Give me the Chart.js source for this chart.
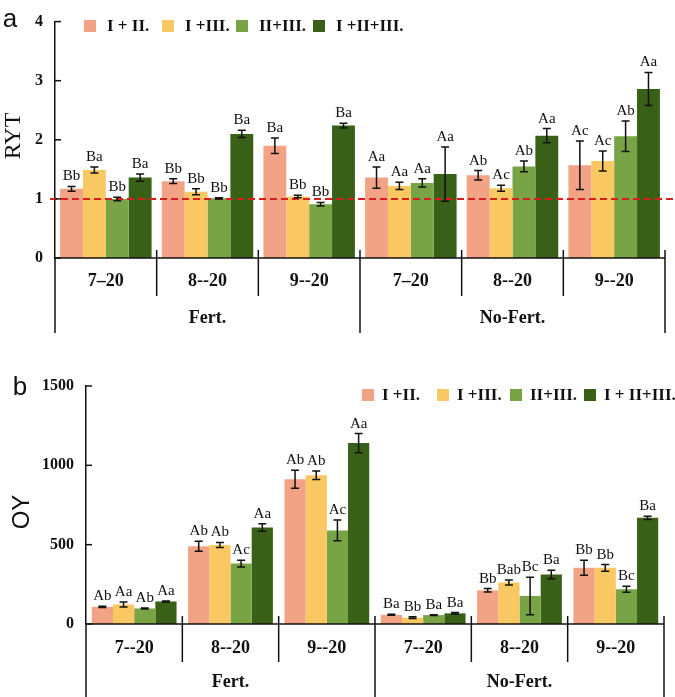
<!DOCTYPE html>
<html>
<head>
<meta charset="utf-8">
<script src="https://cdn.jsdelivr.net/npm/chart.js@4.4.1/dist/chart.umd.min.js"></script>
<style>
  html, body { margin: 0; padding: 0; background: #fff; }
  #wrap { position: relative; width: 675px; height: 697px; overflow: hidden; }
  canvas { position: absolute; left: 0; }
  #rytChart { top: 0; }
  #oyChart { top: 360px; }
</style>
</head>
<body>
<div id="wrap">
  <canvas id="rytChart" width="675" height="360"></canvas>
  <canvas id="oyChart" width="675" height="337"></canvas>
</div>
<script>
// Categories (sowing date) and treatment groups
const rytCategories = ["7–20", "8--20", "9--20", "7–20", "8--20", "9--20"];
const oyCategories = ["7--20", "8--20", "9--20", "7--20", "8--20", "9--20"];
const groupNames = ["Fert.", "No-Fert."];

const rytSeriesNames = ["I + II.", "I +III.", "II+III.", "I +II+III."];
const oySeriesNames = ["I +II.", "I +III.", "II+III.", "I + II+III."];
const seriesColors = ["#F2A385", "#F9C862", "#78A445", "#386016"];

// Panel a: RYT
const rytS1 = [1.17, 1.30, 1.90, 1.36, 1.40, 1.57];
const rytS2 = [1.49, 1.12, 1.04, 1.22, 1.18, 1.64];
const rytS3 = [1.00, 1.01, 0.91, 1.27, 1.55, 2.06];
const rytS4 = [1.36, 2.10, 2.24, 1.42, 2.07, 2.86];
const rytErr1 = [0.04, 0.04, 0.13, 0.18, 0.08, 0.41];
const rytErr2 = [0.05, 0.05, 0.02, 0.06, 0.05, 0.17];
const rytErr3 = [0.03, 0.01, 0.03, 0.07, 0.09, 0.26];
const rytErr4 = [0.06, 0.06, 0.04, 0.46, 0.12, 0.28];
const rytLetters1 = ["Bb", "Bb", "Ba", "Aa", "Ab", "Ac"];
const rytLetters2 = ["Ba", "Bb", "Bb", "Aa", "Ac", "Ac"];
const rytLetters3 = ["Bb", "Bb", "Bb", "Aa", "Ab", "Ab"];
const rytLetters4 = ["Ba", "Ba", "Ba", "Aa", "Aa", "Aa"];
const rytTicks = [0, 1, 2, 3, 4];

// Panel b: OY
const oyS1 = [108, 490, 912, 58, 212, 354];
const oyS2 = [123, 498, 937, 40, 262, 354];
const oyS3 = [98, 381, 590, 56, 177, 219];
const oyS4 = [142, 608, 1140, 67, 312, 669];
const oyErr1 = [4, 31, 57, 3, 11, 47];
const oyErr2 = [16, 16, 27, 5, 16, 21];
const oyErr3 = [3, 21, 66, 2, 118, 19];
const oyErr4 = [3, 24, 60, 5, 27, 10];
const oyLetters1 = ["Ab", "Ab", "Ab", "Ba", "Bb", "Bb"];
const oyLetters2 = ["Aa", "Ab", "Ab", "Bb", "Bab", "Bb"];
const oyLetters3 = ["Ab", "Ac", "Ac", "Ba", "Bc", "Bc"];
const oyLetters4 = ["Aa", "Aa", "Aa", "Ba", "Ba", "Ba"];
const oyTicks = [0, 500, 1000, 1500];

const SERIF = '"Liberation Serif", "Times New Roman", serif';
const SANS = '"Liberation Sans", Arial, sans-serif';

// Error bars and significance letters above each bar
const errorBarPlugin = {
  id: "errorBars",
  afterDatasetsDraw(chart) {
    const ctx = chart.ctx;
    const y = chart.scales.y;
    ctx.save();
    chart.data.datasets.forEach((ds, di) => {
      const meta = chart.getDatasetMeta(di);
      meta.data.forEach((bar, i) => {
        const v = ds.data[i];
        const e = ds.errors[i];
        const top = y.getPixelForValue(v + e);
        const bot = y.getPixelForValue(v - e);
        ctx.strokeStyle = "#111";
        ctx.lineWidth = 1.5;
        ctx.beginPath();
        ctx.moveTo(bar.x, top);
        ctx.lineTo(bar.x, bot);
        ctx.moveTo(bar.x - 4, top);
        ctx.lineTo(bar.x + 4, top);
        ctx.moveTo(bar.x - 4, bot);
        ctx.lineTo(bar.x + 4, bot);
        ctx.stroke();
        ctx.fillStyle = "#111";
        ctx.font = "15px " + SERIF;
        ctx.textAlign = "center";
        ctx.textBaseline = "alphabetic";
        ctx.fillText(ds.letters[i], bar.x, top - 6);
      });
    });
    ctx.restore();
  },
};

// Two-level category axis drawn under the plot
const groupAxisPlugin = {
  id: "groupAxis",
  afterDraw(chart, args, opts) {
    const ctx = chart.ctx;
    const x = chart.scales.x;
    const y = chart.scales.y;
    const area = chart.chartArea;
    const bottom = area.bottom;
    const n = chart.data.labels.length;
    ctx.save();
    ctx.strokeStyle = "#111";
    ctx.lineWidth = 1.5;
    ctx.beginPath();
    ctx.moveTo(area.left, bottom);
    ctx.lineTo(area.right, bottom);
    ctx.stroke();

    // inner ticks on the y axis
    y.ticks.forEach((t) => {
      const py = y.getPixelForValue(t.value);
      ctx.beginPath();
      ctx.moveTo(area.left, py);
      ctx.lineTo(area.left + 6, py);
      ctx.stroke();
    });

    const bounds = [area.left];
    for (let i = 1; i < n; i++) {
      bounds.push((x.getPixelForValue(i - 1) + x.getPixelForValue(i)) / 2);
    }
    bounds.push(area.right);
    bounds.forEach((bx, i) => {
      const big = i === 0 || i === n || i === n / 2;
      ctx.beginPath();
      ctx.moveTo(bx, i === 0 ? bottom : bottom - 8);
      ctx.lineTo(bx, bottom + (big ? opts.bigDrop : opts.smallDrop));
      ctx.stroke();
    });

    ctx.fillStyle = "#111";
    ctx.font = "bold 18px " + SERIF;
    ctx.textAlign = "center";
    ctx.textBaseline = "middle";
    chart.data.labels.forEach((lab, i) => {
      ctx.fillText(lab, x.getPixelForValue(i), bottom + opts.catOffset);
    });
    groupNames.forEach((g, gi) => {
      const cx = (bounds[gi * 3] + bounds[gi * 3 + 3]) / 2;
      ctx.fillText(g, cx, bottom + opts.groupOffset);
    });

    // axis title and panel letter
    ctx.save();
    ctx.translate(opts.titleX, opts.titleY);
    ctx.rotate(-Math.PI / 2);
    ctx.font = opts.titleFont;
    ctx.fillText(opts.title, 0, 0);
    ctx.restore();
    ctx.font = "26px " + SANS;
    ctx.fillText(opts.panel, opts.panelX, opts.panelY);

    // legend
    ctx.textAlign = "left";
    ctx.font = "bold 17px " + SERIF;
    chart.data.datasets.forEach((ds, i) => {
      const lx = opts.legendX[i];
      ctx.fillStyle = ds.backgroundColor;
      ctx.fillRect(lx, opts.legendY - 6, 12, 12);
      ctx.fillStyle = "#111";
      ctx.fillText(ds.label, lx + opts.legendGap, opts.legendY + 1);
    });
    ctx.restore();
  },
};

// Red dashed reference line at RYT = 1
const refLinePlugin = {
  id: "refLine",
  afterDatasetsDraw(chart, args, opts) {
    if (opts.value === undefined) return;
    const ctx = chart.ctx;
    const py = chart.scales.y.getPixelForValue(opts.value);
    ctx.save();
    ctx.strokeStyle = "#D91E1E";
    ctx.lineWidth = 2;
    ctx.setLineDash([7, 4]);
    ctx.beginPath();
    ctx.moveTo(chart.chartArea.left - 5, py);
    ctx.lineTo(chart.width, py);
    ctx.stroke();
    ctx.restore();
  },
};

function buildDatasets(names, values, errors, letters, catPct) {
  return names.map((name, i) => ({
    label: name,
    data: values[i],
    errors: errors[i],
    letters: letters[i],
    backgroundColor: seriesColors[i],
    borderWidth: 0,
    categoryPercentage: catPct,
    barPercentage: 1.0,
  }));
}

function makeChart(id, labels, datasets, yMax, step, yWidth, padding, axisOpts, refValue) {
  return new Chart(document.getElementById(id), {
    type: "bar",
    data: { labels, datasets },
    options: {
      responsive: false,
      animation: false,
      layout: { padding },
      plugins: {
        legend: { display: false },
        tooltip: { enabled: false },
        groupAxis: axisOpts,
        refLine: { value: refValue },
      },
      scales: {
        x: { display: false },
        y: {
          min: 0,
          max: yMax,
          ticks: {
            stepSize: step,
            color: "#111",
            padding: 12,
            font: { family: SERIF, size: 16, weight: "bold" },
            callback: (v) => String(v),
          },
          grid: { display: false, drawTicks: false },
          border: { display: true, color: "#111", width: 1.5 },
          afterFit: (s) => { s.width = yWidth; },
        },
      },
    },
    plugins: [refLinePlugin, errorBarPlugin, groupAxisPlugin],
  });
}

makeChart(
  "rytChart",
  rytCategories,
  buildDatasets(
    rytSeriesNames,
    [rytS1, rytS2, rytS3, rytS4],
    [rytErr1, rytErr2, rytErr3, rytErr4],
    [rytLetters1, rytLetters2, rytLetters3, rytLetters4],
    0.9
  ),
  rytTicks[rytTicks.length - 1], 1, 55,
  { top: 5, right: 10, bottom: 102, left: 0 },
  {
    smallDrop: 38, bigDrop: 75, catOffset: 23, groupOffset: 60,
    title: "RYT", titleFont: "24px " + SERIF, titleX: 14, titleY: 136,
    panel: "a", panelX: 10, panelY: 20,
    legendX: [84, 162, 236, 313], legendGap: 23, legendY: 26,
  },
  1
);

makeChart(
  "oyChart",
  oyCategories,
  buildDatasets(
    oySeriesNames,
    [oyS1, oyS2, oyS3, oyS4],
    [oyErr1, oyErr2, oyErr3, oyErr4],
    [oyLetters1, oyLetters2, oyLetters3, oyLetters4],
    0.88
  ),
  oyTicks[oyTicks.length - 1], 500, 86,
  { top: 26, right: 11, bottom: 73, left: 0 },
  {
    smallDrop: 38, bigDrop: 80, catOffset: 24, groupOffset: 58,
    title: "OY", titleFont: "24px " + SANS, titleX: 22, titleY: 152,
    panel: "b", panelX: 20, panelY: 28,
    legendX: [362, 437, 510, 584], legendGap: 20, legendY: 35,
  }
);
</script>
</body>
</html>
